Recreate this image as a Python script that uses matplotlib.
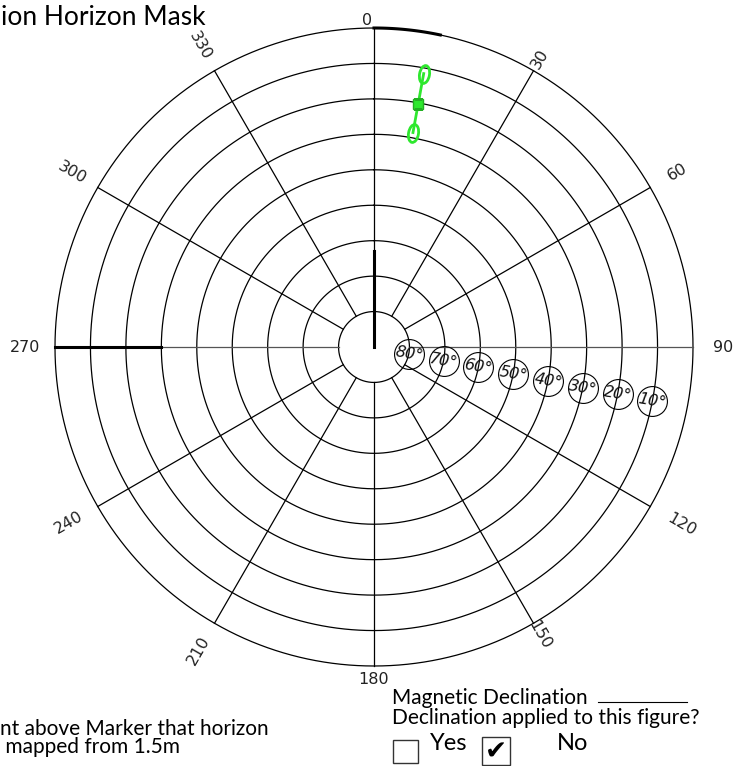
"""
Horizon mask polar plot (azimuth clockwise from north, elevation inward)
"""

import numpy as np
import matplotlib
matplotlib.use("Agg")
import matplotlib.pyplot as plt
import matplotlib.font_manager as fm
from matplotlib.markers import MarkerStyle
from matplotlib.patches import Rectangle
from matplotlib.transforms import Affine2D

FIG_W, FIG_H = 734, 766  # pixels
DPI = 100
CX, CY, RPX = 374, 347, 319  # polar centre and outer radius, pixels

# grid
RING_ELEV = [80, 70, 60, 50, 40, 30, 20, 10, 0]
SPOKE_AZ = [0, 30, 60, 90, 120, 150, 180, 210, 240, 270, 300, 330]
AZ_LABELS = ["0", "30", "60", "90", "120", "150", "180", "210", "240", "270", "300", "330"]
ELEV_LABELS = ["80°", "70°", "60°", "50°", "40°", "30°", "20°", "10°"]
ELEV_LABEL_AZ = 101

# horizon mask segments (azimuth deg, elevation deg)
MASK_AZ_1 = [270, 270]
MASK_EL_1 = [0, 30]
MASK_AZ_2 = [0, 0]
MASK_EL_2 = [90, 63]
MASK_AZ_3 = [0, 12]
MASK_EL_3 = [0, 0]

# green marker track
TRACK_AZ = [10.3, 10.3]
TRACK_EL = [11.6, 28.5]
TRACK_MID_EL = 20.4

GREEN = "#2ee82e"
LABEL_RADII_PX = [327, 332, 350, 349, 355, 332, 333, 350, 352, 349, 348, 348]
LABEL_NUDGE = [-1.3, 0, 0, 0, 0, 0, 0, 0, 0, 0, 0, 0]  # deg


def r_of(el):
    """Elevation -> polar radius (0 at zenith)."""
    return 90 - np.asarray(el, dtype=float)


def label_rotation(az):
    if az % 180 == 0:
        return 0
    rot = 90 - az
    while rot <= -90:
        rot += 180
    while rot > 90:
        rot -= 180
    return rot


def fx(px):
    return px / FIG_W


def fy(py):
    return 1 - py / FIG_H


names = {f.name for f in fm.fontManager.ttflist}
if "Liberation Sans Narrow" in names:
    NUM_FONT, NUM_SIZE = "Liberation Sans Narrow", 13.5
else:
    NUM_FONT, NUM_SIZE = "DejaVu Sans", 11.5
TXT_FONT = "Lato" if "Lato" in names else "DejaVu Sans"

fig = plt.figure(figsize=(FIG_W / DPI, FIG_H / DPI), dpi=DPI)
ax = fig.add_axes([fx(CX - RPX), fy(CY + RPX), 2 * RPX / FIG_W, 2 * RPX / FIG_H],
                  projection="polar")
ax.set_theta_zero_location("N")
ax.set_theta_direction(-1)
ax.set_rlim(0, 90)
ax.set_axis_off()

# rings
full = np.linspace(0, 2 * np.pi, 721)
for el in RING_ELEV:
    ax.plot(full, np.full_like(full, r_of(el)), color="black", lw=0.9, clip_on=False)

# spokes, from inner ring to horizon
for az in SPOKE_AZ:
    col = "#555555" if az in (90, 270) else "black"
    ax.plot(np.deg2rad([az, az]), r_of([RING_ELEV[0], 0]), color=col, lw=0.9,
            clip_on=False)

# horizon mask
ax.plot(np.deg2rad(MASK_AZ_1), r_of(MASK_EL_1), color="black", lw=2.2, clip_on=False)
ax.plot(np.deg2rad(MASK_AZ_2), r_of(MASK_EL_2), color="black", lw=2.2, clip_on=False)
arc = np.deg2rad(np.linspace(MASK_AZ_3[0], MASK_AZ_3[1], 30))
ax.plot(arc, np.full_like(arc, r_of(MASK_EL_3[0])), color="black", lw=2.2, clip_on=False)

# azimuth labels
for az, txt, rpx, nud in zip(SPOKE_AZ, AZ_LABELS, LABEL_RADII_PX, LABEL_NUDGE):
    ax.text(np.deg2rad(az + nud), rpx / RPX * 90, txt, family=[NUM_FONT, "DejaVu Sans"],
            fontsize=NUM_SIZE, ha="center", va="center", rotation=label_rotation(az),
            rotation_mode="anchor", color="#222222")

# elevation labels in small circles
el_vals = [int(s.rstrip("°")) for s in ELEV_LABELS]
ax.plot(np.deg2rad(np.full(len(el_vals), ELEV_LABEL_AZ)), r_of(el_vals), "o",
        ms=21.5, mfc="none", mec="black", mew=0.8, clip_on=False, zorder=3)
for el, txt in zip(el_vals, ELEV_LABELS):
    ax.text(np.deg2rad(ELEV_LABEL_AZ), r_of(el), txt, fontsize=11.5, style="italic",
            ha="center", va="center", rotation=-10, color="#111111", zorder=4)

# green track with loop ends and centre square
ax.plot(np.deg2rad(TRACK_AZ), r_of(TRACK_EL), color=GREEN, lw=2.0, zorder=5)
loop = MarkerStyle("o", fillstyle="none",
                   transform=Affine2D().scale(0.55, 1.0).rotate_deg(-10))
ax.plot(np.deg2rad(TRACK_AZ), r_of(TRACK_EL), linestyle="none", marker=loop, ms=13,
        mec=GREEN, mew=2.0, zorder=5)
ax.plot(np.deg2rad([TRACK_AZ[0]]), r_of([TRACK_MID_EL]), "s", ms=7, mfc=GREEN,
        mec="#22b022", mew=1.0, zorder=6)

# page text (the reference shows these clipped at the left page edge)
fig.text(fx(1), fy(25), "ion Horizon Mask", family=TXT_FONT, fontsize=19,
         ha="left", va="baseline")
fig.text(fx(0), fy(719), "nt above Marker that horizon\n mapped from 1.5m",
         family=TXT_FONT, fontsize=15, ha="left", va="top", linespacing=0.85)
fig.text(fx(392), fy(704), "Magnetic Declination", family=TXT_FONT, fontsize=15,
         ha="left", va="baseline")
fig.add_artist(plt.Line2D([fx(598), fx(687)], [fy(702), fy(702)], color="black", lw=0.8))
fig.text(fx(392), fy(724), "Declination applied to this figure?", family=TXT_FONT,
         fontsize=15, ha="left", va="baseline")
fig.text(fx(430), fy(750), "Yes", family=TXT_FONT, fontsize=17, ha="left", va="baseline")
fig.text(fx(557), fy(750), "No", family=TXT_FONT, fontsize=17, ha="left", va="baseline")
fig.add_artist(Rectangle((fx(393), fy(763)), fx(25), 23 / FIG_H, fill=False,
                         ec="#333333", lw=1.0))
fig.add_artist(Rectangle((fx(482), fy(765)), fx(28), 28 / FIG_H, fill=False,
                         ec="#333333", lw=1.0))
fig.text(fx(496), fy(753), "\u2714", family="DejaVu Sans", fontsize=19,
         ha="center", va="center")

fig.savefig("out.png", dpi=DPI)
